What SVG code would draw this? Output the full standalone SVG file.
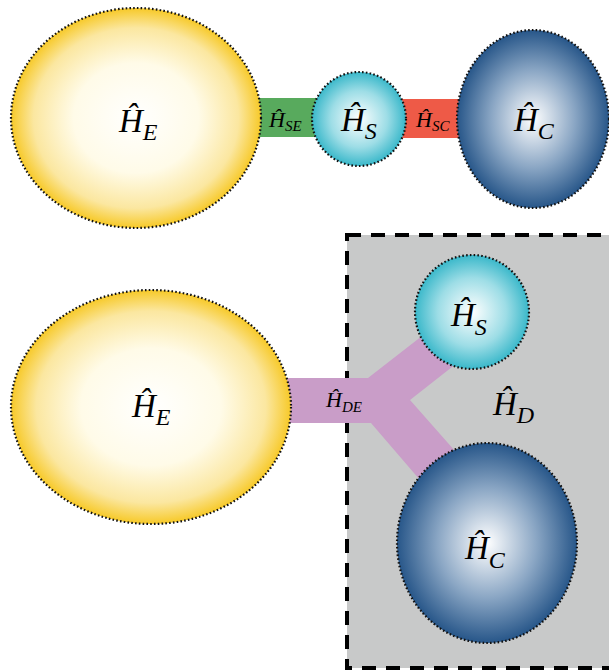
<svg xmlns="http://www.w3.org/2000/svg" width="609" height="671" viewBox="0 0 609 671">
<defs>
<radialGradient id="gE"><stop offset="0" stop-color="#ffffff"/><stop offset="0.5" stop-color="#fffbe8"/><stop offset="0.82" stop-color="#fbe7a0"/><stop offset="1" stop-color="#f7c928"/></radialGradient>
<radialGradient id="gS"><stop offset="0" stop-color="#ffffff"/><stop offset="0.6" stop-color="#9ddde6"/><stop offset="1" stop-color="#3ab8ca"/></radialGradient>
<radialGradient id="gC"><stop offset="0" stop-color="#ffffff"/><stop offset="0.55" stop-color="#8aa6c4"/><stop offset="1" stop-color="#275689"/></radialGradient>
<style>
.dot{stroke:#111;stroke-width:2.2;stroke-dasharray:1.6 2.2;}
</style>
</defs>
<g id="connectors">
<rect x="250" y="98" width="70" height="39" fill="#58aa5d"/>
<rect x="400" y="99" width="66" height="39" fill="#ee5a47"/>
</g>
<g font-family="Liberation Serif" font-style="italic" fill="#000">
<g id="region-D">
<rect x="347" y="235" width="290" height="433" fill="#c8c9c9" stroke="#000" stroke-width="4" stroke-dasharray="14 10"/>
<text font-size="33" x="493" y="415">Ĥ<tspan font-size="24" dy="8">D</tspan></text>
</g>
<g id="connector-DE">
<polygon points="280,378 368,378 440,322 466,356 410,400 470,468 432,494 371,423 280,423" fill="#c99dc8"/>
<text font-size="22" x="326" y="407">Ĥ<tspan font-size="15" dy="5">DE</tspan></text>
</g>
<g id="label-SE"><text font-size="22" x="269" y="127">Ĥ<tspan font-size="15" dy="4">SE</tspan></text></g>
<g id="label-SC"><text font-size="22" x="416" y="127">Ĥ<tspan font-size="15" dy="4">SC</tspan></text></g>
<g id="E-top">
<ellipse cx="136" cy="118" rx="125" ry="110" fill="url(#gE)" class="dot"/>
<text font-size="33" x="119" y="132">Ĥ<tspan font-size="24" dy="8">E</tspan></text>
</g>
<g id="S-top">
<ellipse cx="359" cy="119" rx="47" ry="47" fill="url(#gS)" class="dot"/>
<text font-size="33" x="341" y="131">Ĥ<tspan font-size="24" dy="8">S</tspan></text>
</g>
<g id="C-top">
<ellipse cx="533" cy="119" rx="76" ry="89" fill="url(#gC)" class="dot"/>
<text font-size="33" x="514" y="131">Ĥ<tspan font-size="24" dy="8">C</tspan></text>
</g>
<g id="E-bottom">
<ellipse cx="151" cy="407" rx="140" ry="117" fill="url(#gE)" class="dot"/>
<text font-size="33" x="132" y="417">Ĥ<tspan font-size="24" dy="8">E</tspan></text>
</g>
<g id="S-bottom">
<ellipse cx="472" cy="312" rx="57" ry="57" fill="url(#gS)" class="dot"/>
<text font-size="33" x="451" y="326">Ĥ<tspan font-size="24" dy="9">S</tspan></text>
</g>
<g id="C-bottom">
<ellipse cx="487" cy="543" rx="90" ry="100" fill="url(#gC)" class="dot"/>
<text font-size="33" x="465" y="559">Ĥ<tspan font-size="24" dy="9">C</tspan></text>
</g>
</g>
</svg>
